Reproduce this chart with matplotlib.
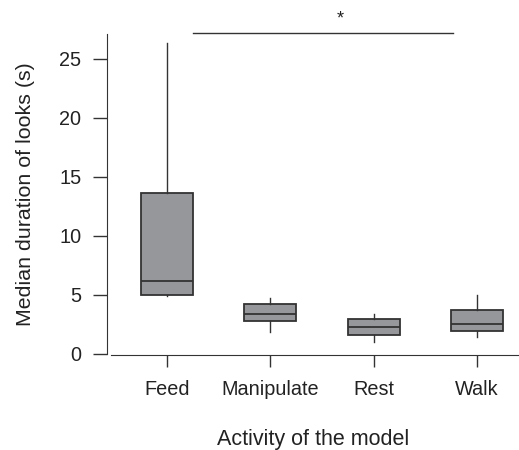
import matplotlib
matplotlib.use("Agg")
import matplotlib.pyplot as plt

plt.rcParams['font.family'] = ['Liberation Sans', 'DejaVu Sans']

categories = ["Feed", "Manipulate", "Rest", "Walk"]
whislo = [4.9, 1.87, 1.02, 1.44]
q1 = [5.0, 2.75, 1.61, 1.93]
med = [6.17, 3.37, 2.29, 2.54]
q3 = [13.65, 4.19, 2.92, 3.71]
whishi = [26.3, 4.7, 3.37, 4.98]
yticks = [0, 5, 10, 15, 20, 25]

stats = []
for i, c in enumerate(categories):
    stats.append(dict(label=c, whislo=whislo[i], q1=q1[i], med=med[i], q3=q3[i], whishi=whishi[i], fliers=[]))

fig = plt.figure(figsize=(5.19, 4.5), dpi=100)
ax = fig.add_axes([0.2062, 0.214, 0.7938, 0.7104])

tc = '#222222'
ec = '#333333'
bp = ax.bxp(stats, positions=range(1, 5), widths=0.5, showcaps=False, showfliers=False,
            patch_artist=True,
            boxprops=dict(facecolor='#96979a', edgecolor=ec, linewidth=1.3),
            medianprops=dict(color=ec, linewidth=1.3),
            whiskerprops=dict(color=ec, linewidth=1.0))

ax.set_xlim(0.423, 4.404)
ax.set_ylim(0, 27.1)
ax.set_yticks(yticks)
ax.set_xticks(range(1, 5))
ax.set_xticklabels(categories)
for s in ['top', 'right']:
    ax.spines[s].set_visible(False)
ax.spines['bottom'].set_bounds(0.462, 4.404)
ax.spines['bottom'].set_position(('outward', 1))
ax.spines['left'].set_color(ec)
ax.spines['bottom'].set_color(ec)
ax.tick_params(axis='y', length=10, width=1, color=ec, labelsize=14.3, labelcolor=tc, pad=8.6)
ax.tick_params(axis='x', length=8.6, width=1, color=ec, labelsize=14.3, labelcolor=tc, pad=9)

ax.set_ylabel("Median duration of looks (s)", fontsize=15.4, color=tc, labelpad=17)
ax.set_xlabel("Activity of the model", fontsize=15.5, color=tc, labelpad=22)

# significance bar
ax.plot([1.25, 3.77], [27.2, 27.2], color=ec, linewidth=1.0, clip_on=False)
ax.text(2.68, 28.4, "*", ha='center', va='center', fontsize=13, color=tc)

fig.savefig("out.png", dpi=100)
